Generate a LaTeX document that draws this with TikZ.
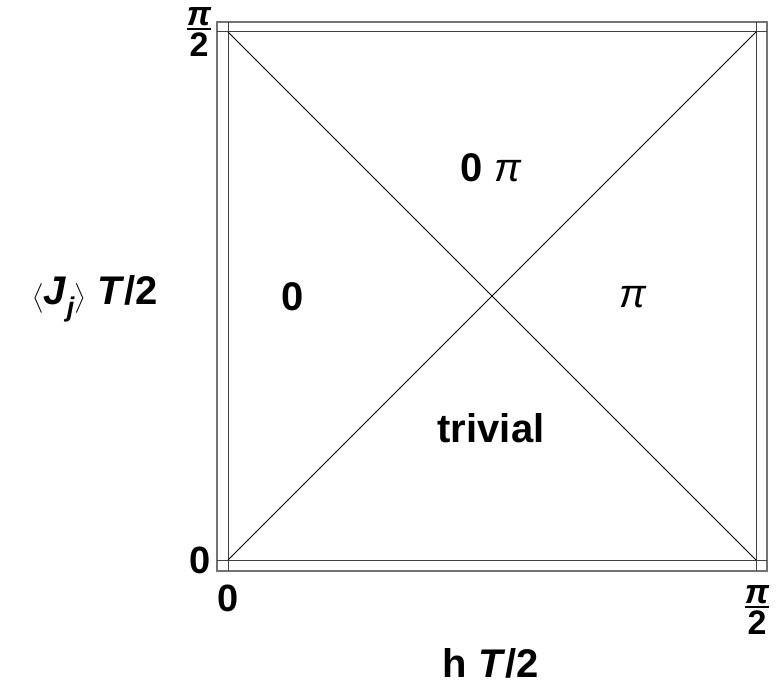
\documentclass[tikz,border=0pt]{standalone}
\usepackage{fontspec}
\usepackage{amsmath}
\setmainfont{Liberation Sans}
\tikzset{
  lab/.style={font=\fontsize{40}{44}\selectfont\bfseries, inner sep=0pt},
  tick/.style={font=\fontsize{38}{40}\selectfont\bfseries, inner sep=0pt},
  fractick/.style={font=\fontsize{34}{36}\selectfont\bfseries, inner sep=0pt},
  framec/.style={draw=black!55, line width=1.3pt},
  gridc/.style={draw=black!75, line width=1pt},
  diag/.style={draw=black, line width=0.8pt}
}
\newcommand{\halfpi}{$\genfrac{}{}{2.4pt}{1}{\hbox{\bfseries\itshape π}}{\hbox{\bfseries 2}}$}
\begin{document}
\begin{tikzpicture}[x=1pt,y=-1pt]
\useasboundingbox (0,0) rectangle (780,687);
% frame
\coordinate (F1) at (217,22);
\coordinate (F2) at (767,571);
\draw[framec] (F1) rectangle (F2);
% corners of region
\coordinate (BL) at (228,560);
\coordinate (BR) at (756,560);
\coordinate (TL) at (228,32);
\coordinate (TR) at (756,32);
\coordinate (L1) at (217,32);  \coordinate (R1) at (767,32);
\coordinate (L2) at (217,560); \coordinate (R2) at (767,560);
\coordinate (T1) at (228,22);  \coordinate (B1) at (228,571);
\coordinate (T2) at (756,22);  \coordinate (B2) at (756,571);
\draw[gridc] (L1) -- (R1);
\draw[gridc] (L2) -- (R2);
\draw[gridc] (T1) -- (B1);
\draw[gridc] (T2) -- (B2);
\draw[diag] (BL) -- (TR);
\draw[diag] (TL) -- (BR);
% region labels
\node[lab] (r0pi) at (491,168) {0\hspace{0.3em}{\mdseries\itshape π}};
\node[lab] (r0) at (293,297) {0};
\node[lab] (rpi) at (633,297) {\mdseries\itshape π};
\node[lab] (rtriv) at (491,428) {trivial};
% ticks
\node[tick] (ty0) at (200,560) {0};
\node[fractick] (typi) at (199,32) {\halfpi};
\node[tick] (tx0) at (228,598) {0};
\node[fractick] (txpi) at (757,610) {\halfpi};
% axis labels
\node[lab] (ylab) at (95,299) {$\bigl\langle$\textit{J}\raisebox{-0.3em}{\fontsize{27}{30}\selectfont\itshape j}$\bigr\rangle$ \textit{T}/2};
\node[lab] (xlab) at (491,663) {h \textit{T}/2};
\end{tikzpicture}
\end{document}
